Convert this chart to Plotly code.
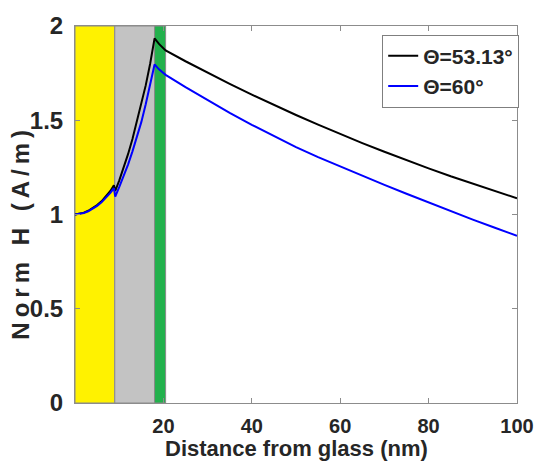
import plotly.graph_objects as go

# Distance from the glass surface (nm) at which the field was sampled
distance_nm = [0, 1, 2, 3, 4, 5, 6, 7, 8, 8.8, 9.1, 10, 11, 12, 13, 14, 15, 16, 17, 18,
               19, 20, 20.5, 25, 30, 35, 40, 45, 50, 55, 60, 65, 70, 75, 80, 85, 90, 95, 100]

# Normalised magnetic field |H| for each incidence angle
h_53 = [1.0, 1.003, 1.01, 1.02, 1.033, 1.05, 1.07, 1.095, 1.125, 1.155, 1.125, 1.18, 1.245,
        1.32, 1.40, 1.49, 1.585, 1.685, 1.80, 1.934, 1.905, 1.88, 1.870, 1.813, 1.752, 1.693,
        1.636, 1.581, 1.528, 1.477, 1.427, 1.379, 1.333, 1.288, 1.245, 1.203, 1.163, 1.124, 1.086]
h_60 = [1.0, 1.002, 1.008, 1.017, 1.03, 1.046, 1.065, 1.088, 1.115, 1.14, 1.095, 1.145, 1.20,
        1.265, 1.335, 1.41, 1.49, 1.585, 1.685, 1.796, 1.77, 1.75, 1.741, 1.676, 1.606, 1.539,
        1.476, 1.415, 1.357, 1.304, 1.254, 1.205, 1.157, 1.110, 1.063, 1.018, 0.973, 0.930, 0.887]

series_names = ["Θ=53.13°", "Θ=60°"]
series_colors = ["#000000", "#0000FF"]

# Layer stack (start, end in nm) and fill colours
layer_edges = [0, 9, 18, 20.5]
layer_colors = ["#FFF200", "#C3C3C3", "#22B14C"]

x_ticks = [20, 40, 60, 80, 100]
y_ticks = [0, 0.5, 1, 1.5, 2]

FONT = "Liberation Sans, Arial, sans-serif"
TXT = "#262626"
AX = "#8C8C8C"

fig = go.Figure()

for name, ys, col in zip(series_names, [h_53, h_60], series_colors):
    fig.add_trace(go.Scatter(x=distance_nm, y=ys, mode="lines", name=name,
                             line=dict(color=col, width=2)))

shapes = []
for i, col in enumerate(layer_colors):
    shapes.append(dict(type="rect", xref="x", yref="y",
                       x0=layer_edges[i], x1=layer_edges[i + 1], y0=0, y1=2,
                       fillcolor=col, line=dict(color="#8A8A8A", width=1),
                       layer="below"))

fig.update_layout(
    width=546, height=463,
    margin=dict(l=75, r=20, t=17, b=60),
    paper_bgcolor="white", plot_bgcolor="white",
    shapes=shapes,
    font=dict(family=FONT, color=TXT, size=22, weight="bold"),
    showlegend=True,
    legend=dict(x=0.695, y=0.977, xanchor="left", yanchor="top",
                bgcolor="white", bordercolor="#7F7F7F", borderwidth=1,
                font=dict(family=FONT, size=21, color=TXT, weight="bold"),
                tracegroupgap=0, itemwidth=30),
    annotations=[
        dict(text="Distance from glass (nm)", xref="paper", yref="paper",
             x=0.5, y=-0.121, xanchor="center", yanchor="middle", showarrow=False,
             font=dict(family=FONT, size=22, color=TXT, weight="bold")),
        dict(text='<span style="letter-spacing:5px">Norm H (A/m)</span>',
             xref="paper", yref="paper", x=-0.122, y=0.452, textangle=-90,
             xanchor="center", yanchor="middle", showarrow=False,
             font=dict(family=FONT, size=24, color=TXT, weight="bold")),
    ],
)

fig.update_xaxes(range=[0, 100], tickvals=x_ticks, ticks="inside", ticklen=5,
                 tickcolor=AX, showline=True, linecolor=AX, linewidth=1, mirror="ticks",
                 showgrid=False, zeroline=False, ticklabelstandoff=5,
                 tickfont=dict(family=FONT, size=20, color=TXT, weight="bold"))
fig.update_yaxes(range=[0, 2], tickvals=y_ticks, ticks="inside", ticklen=5,
                 tickcolor=AX, showline=True, linecolor=AX, linewidth=1, mirror="ticks",
                 showgrid=False, zeroline=False, ticklabelstandoff=6,
                 tickfont=dict(family=FONT, size=24, color=TXT, weight="bold"))

fig.write_html("out.html")
